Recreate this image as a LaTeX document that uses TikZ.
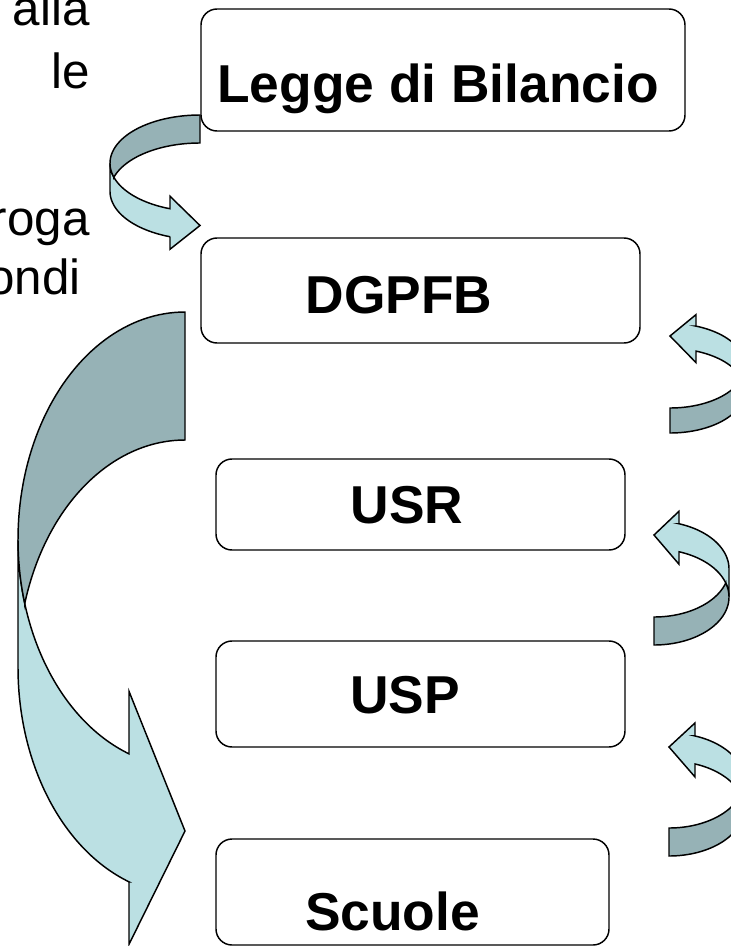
\documentclass[tikz,border=0pt]{standalone}
\usepackage{fontspec}
\setmainfont{Liberation Sans}
\definecolor{arrdark}{RGB}{150,178,182}
\definecolor{arrlight}{RGB}{187,224,227}
\tikzset{
  box/.style={draw=black, line width=1.1pt, rounded corners=12pt, fill=white, inner sep=0pt, outer sep=0pt},
  lbl/.style={font=\fontsize{40}{48}\selectfont\bfseries, anchor=base, inner sep=0pt},
  side/.style={font=\fontsize{37}{44}\selectfont, anchor=base east, inner sep=0pt},
  arrowpart/.style={draw=black, line width=1.1pt, line join=miter},
}
% curved band arrow in local pixel coords: #1 w, #2 h, #3 band thickness, #4 head width, #5 head length
\newcommand{\bandarrow}[5]{%
  \pgfmathsetmacro{\caW}{#1}%
  \pgfmathsetmacro{\caHR}{#2/2-(#3+#4)/4}%
  \pgfmathsetmacro{\caYthree}{\caHR+#3}%
  \pgfmathsetmacro{\caBeta}{acos(#5/#1)}%
  \pgfmathsetmacro{\caDy}{\caHR*sin(\caBeta)}%
  \pgfmathsetmacro{\caDh}{(#4-#3)/2}%
  \pgfmathsetmacro{\caYfour}{\caHR+\caDy-\caDh}%
  \pgfmathsetmacro{\caYseven}{\caYthree+\caDy}%
  \pgfmathsetmacro{\caYeight}{\caYseven+\caDh}%
  \pgfmathsetmacro{\caYsix}{#2-#4/2}%
  \pgfmathsetmacro{\caXone}{#1-#5}%
  \pgfmathsetmacro{\caGam}{asin(#3/(2*\caHR))}%
  \pgfmathsetmacro{\caAend}{180-\caBeta}%
  \pgfmathsetmacro{\caBint}{180+\caGam}%
  \pgfmathsetmacro{\caAint}{180-\caGam}%
  \filldraw[arrowpart, fill=arrlight] (0,\caHR)
    -- plot[domain=180:\caAend, samples=60, variable=\t] ({\caW+\caW*cos(\t)},{\caHR+\caHR*sin(\t)})
    -- (\caXone,\caYfour) -- (\caW,\caYsix) -- (\caXone,\caYeight) -- (\caXone,\caYseven)
    -- plot[domain=\caAend:180, samples=60, variable=\t] ({\caW+\caW*cos(\t)},{\caYthree+\caHR*sin(\t)})
    -- cycle;
  \filldraw[arrowpart, fill=arrdark] (\caW,#3)
    -- plot[domain=270:\caBint, samples=60, variable=\t] ({\caW+\caW*cos(\t)},{\caYthree+\caHR*sin(\t)})
    -- plot[domain=\caAint:270, samples=60, variable=\t] ({\caW+\caW*cos(\t)},{\caHR+\caHR*sin(\t)})
    -- cycle;
}
\begin{document}
\begin{tikzpicture}[x=0.75pt, y=-0.75pt]
\useasboundingbox (0,0) rectangle (731,946);
\clip (0,0) rectangle (731,946);
\fill[white] (0,0) rectangle (731,946);

% side text (cut off at the left)
\node[side] (t1) at (90,25) {alla};
\node[side] (t2) at (90,88) {le};
\node[side] (t3) at (90,235) {roga};
\node[side] (t4) at (81,294) {ondi};

% curved arrows
\begin{scope}[shift={(110,115)}]
  \bandarrow{90}{137}{28}{53}{30}
\end{scope}
\begin{scope}[shift={(18,312)}]
  \bandarrow{167}{645.5}{128}{253}{56}
\end{scope}
\begin{scope}[shift={(745,433)}, xscale=-1, yscale=-1]
  \bandarrow{75}{121}{25}{48}{26}
\end{scope}
\begin{scope}[shift={(729,645)}, xscale=-1, yscale=-1]
  \bandarrow{75}{136.5}{28}{53}{25}
\end{scope}
\begin{scope}[shift={(744,856)}, xscale=-1, yscale=-1]
  \bandarrow{75}{136}{28}{54}{26}
\end{scope}

% boxes
\node[box, minimum width=363pt, minimum height=91.5pt] (legge) at (443,70) {};
\node[box, minimum width=329.25pt, minimum height=78.75pt] (dgpfb) at (420.5,290.5) {};
\node[box, minimum width=306.75pt, minimum height=68.25pt] (usr) at (420.5,504.5) {};
\node[box, minimum width=306.75pt, minimum height=79.5pt] (usp) at (420.5,694) {};
\node[box, minimum width=294.75pt, minimum height=79.5pt] (scuole) at (412.5,892) {};

% labels
\node[lbl] (leggeT) at (438,102) {Legge di Bilancio};
\node[lbl] (dgpfbT) at (399,313) {DGPFB};
\node[lbl] (usrT) at (407,523) {USR};
\node[lbl] (uspT) at (405,713) {USP};
\node[lbl] (scuoleT) at (392.5,930) {Scuole};
\end{tikzpicture}
\end{document}
